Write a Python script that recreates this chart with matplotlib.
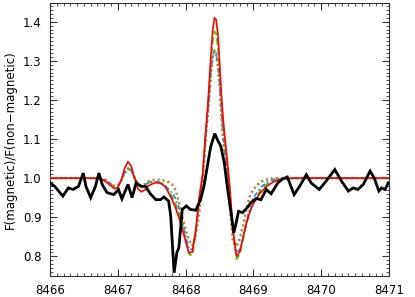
import matplotlib
matplotlib.use("Agg")
import matplotlib.pyplot as plt
from matplotlib.ticker import MultipleLocator

# Observed ratio (black)
obs_wl = [8466.00, 8466.07, 8466.19, 8466.27, 8466.34, 8466.42, 8466.49, 8466.53, 8466.60, 8466.67,
          8466.72, 8466.77, 8466.84, 8466.94, 8467.01, 8467.06, 8467.15, 8467.21, 8467.27, 8467.34,
          8467.41, 8467.48, 8467.56, 8467.63, 8467.68, 8467.75, 8467.78, 8467.83, 8467.87, 8467.90,
          8467.95, 8468.01, 8468.07, 8468.15, 8468.22, 8468.27, 8468.32, 8468.37, 8468.43, 8468.47,
          8468.52, 8468.57, 8468.62, 8468.67, 8468.71, 8468.74, 8468.78, 8468.84, 8468.91, 8468.96,
          8469.04, 8469.11, 8469.19, 8469.26, 8469.36, 8469.43, 8469.50, 8469.60, 8469.68, 8469.78,
          8469.85, 8469.97, 8470.07, 8470.20, 8470.30, 8470.40, 8470.47, 8470.54, 8470.62, 8470.72,
          8470.78, 8470.85, 8470.89, 8470.94, 8470.99]
obs_f = [0.988, 0.979, 0.954, 0.975, 0.971, 0.979, 1.013, 0.979, 0.950, 0.979,
         1.013, 0.984, 0.963, 0.958, 0.971, 0.947, 0.984, 0.950, 0.988, 0.979,
         0.979, 0.960, 0.945, 0.945, 0.952, 0.941, 0.903, 0.758, 0.809, 0.822,
         0.920, 0.929, 0.920, 0.918, 0.945, 0.979, 1.030, 1.081, 1.114, 1.098,
         1.081, 1.039, 0.971, 0.911, 0.860, 0.882, 0.915, 0.912, 0.925, 0.937,
         0.948, 0.945, 0.971, 0.960, 0.988, 0.998, 1.003, 0.958, 0.979, 1.009,
         0.988, 0.971, 0.992, 1.022, 0.992, 0.967, 0.975, 0.971, 0.984, 1.018,
         1.001, 0.967, 0.975, 0.971, 0.988]

# Synthetic profiles
syn_wl = [8466.0, 8466.6, 8466.7, 8466.8, 8466.9, 8466.95, 8467.0, 8467.05, 8467.1, 8467.15,
          8467.2, 8467.25, 8467.3, 8467.35, 8467.4, 8467.45, 8467.5, 8467.55, 8467.6, 8467.65,
          8467.7, 8467.75, 8467.8, 8467.85, 8467.9, 8467.95, 8468.0, 8468.05, 8468.1, 8468.15,
          8468.2, 8468.25, 8468.3, 8468.325, 8468.35, 8468.375, 8468.4, 8468.425, 8468.45, 8468.475,
          8468.5, 8468.525, 8468.55, 8468.575, 8468.6, 8468.65, 8468.7, 8468.75, 8468.8, 8468.85,
          8468.9, 8468.95, 8469.0, 8469.1, 8469.2, 8469.3, 8469.4, 8469.5, 8469.6, 8469.8,
          8470.0, 8471.0]
red_f = [1.000, 1.000, 0.999, 0.994, 0.980, 0.973, 0.976, 0.995, 1.025, 1.042,
         1.030, 0.998, 0.972, 0.965, 0.970, 0.980, 0.985, 0.988, 0.988, 0.985,
         0.978, 0.962, 0.945, 0.925, 0.900, 0.870, 0.838, 0.808, 0.812, 0.870,
         0.950, 1.010, 1.130, 1.180, 1.250, 1.320, 1.380, 1.410, 1.405, 1.370,
         1.300, 1.220, 1.160, 1.110, 1.070, 0.980, 0.865, 0.800, 0.812, 0.850,
         0.888, 0.915, 0.935, 0.962, 0.980, 0.991, 0.997, 0.999, 1.000, 1.000,
         1.000, 1.000]
green_f = [1.000, 1.000, 1.000, 0.996, 0.984, 0.978, 0.980, 0.993, 1.014, 1.026,
           1.020, 1.000, 0.984, 0.979, 0.982, 0.988, 0.990, 0.991, 0.990, 0.987,
           0.980, 0.968, 0.952, 0.935, 0.910, 0.880, 0.845, 0.805, 0.802, 0.860,
           0.940, 1.000, 1.120, 1.170, 1.235, 1.300, 1.350, 1.375, 1.370, 1.335,
           1.275, 1.200, 1.140, 1.100, 1.060, 0.970, 0.855, 0.793, 0.805, 0.845,
           0.885, 0.915, 0.940, 0.968, 0.985, 0.994, 0.998, 1.000, 1.000, 1.000,
           1.000, 1.000]
blue_f = [1.000, 1.000, 1.000, 0.997, 0.985, 0.979, 0.980, 0.993, 1.013, 1.025,
          1.019, 0.999, 0.984, 0.979, 0.982, 0.989, 0.991, 0.991, 0.990, 0.986,
          0.980, 0.972, 0.962, 0.948, 0.925, 0.890, 0.852, 0.818, 0.818, 0.862,
          0.935, 0.995, 1.110, 1.160, 1.210, 1.270, 1.310, 1.328, 1.320, 1.290,
          1.240, 1.170, 1.110, 1.070, 1.030, 0.960, 0.860, 0.810, 0.818, 0.850,
          0.890, 0.928, 0.950, 0.975, 0.990, 0.997, 0.999, 1.000, 1.000, 1.000,
          1.000, 1.000]
brown_f = [1.000, 1.000, 1.000, 0.998, 0.986, 0.980, 0.981, 0.994, 1.013, 1.024,
           1.019, 1.000, 0.985, 0.981, 0.985, 0.992, 0.995, 0.996, 0.996, 0.995,
           0.993, 0.990, 0.984, 0.970, 0.940, 0.905, 0.868, 0.840, 0.828, 0.855,
           0.910, 0.990, 1.110, 1.160, 1.210, 1.270, 1.310, 1.325, 1.318, 1.288,
           1.238, 1.168, 1.108, 1.068, 1.025, 0.930, 0.835, 0.826, 0.845, 0.880,
           0.925, 0.955, 0.972, 0.990, 0.997, 1.000, 1.000, 1.000, 1.000, 1.000,
           1.000, 1.000]

x_ticks = [8466, 8467, 8468, 8469, 8470, 8471]
y_ticks = [0.8, 0.9, 1.0, 1.1, 1.2, 1.3, 1.4]

plt.rcParams['font.family'] = ['DejaVu Sans']
fig = plt.figure(figsize=(4.15, 2.97), dpi=100)
ax = fig.add_axes([0.1205, 0.071, 0.817, 0.919])

ax.plot(syn_wl, green_f, color='#33cc00', lw=1.2, ls=(0, (4, 2)), zorder=2)
ax.plot(syn_wl, blue_f, color='#1e88ff', lw=1.2, ls=(0, (3, 1.5, 1, 1.5)), zorder=3)
ax.plot(syn_wl, brown_f, color='#b07d2a', lw=1.8, ls=(0, (0.8, 1.2)), zorder=4)
ax.plot(syn_wl, red_f, color='#ff0000', lw=1.2, zorder=5)
ax.plot(obs_wl, obs_f, color='black', lw=2.0, zorder=6, solid_joinstyle='miter')

ax.set_xlim(8466, 8471)
ax.set_ylim(0.75, 1.448)
ax.set_xticks(x_ticks)
ax.set_xticklabels([str(t) for t in x_ticks])
ax.set_yticks(y_ticks)
ax.set_yticklabels([f"{t:.1f}" for t in y_ticks])
ax.xaxis.set_minor_locator(MultipleLocator(0.1))
ax.yaxis.set_minor_locator(MultipleLocator(0.01))
ax.tick_params(which='both', direction='in', top=True, right=True, labelsize=8.5, pad=6,
               color='#333333')
ax.tick_params(which='major', length=5, width=0.8)
ax.tick_params(which='minor', length=2.5, width=0.6)
for s in ax.spines.values():
    s.set_linewidth(0.8)
    s.set_color('#333333')
ax.set_ylabel('F(magnetic)/F(non\u2212magnetic)', fontsize=8.5, labelpad=4)

fig.savefig('out.png', dpi=100)
